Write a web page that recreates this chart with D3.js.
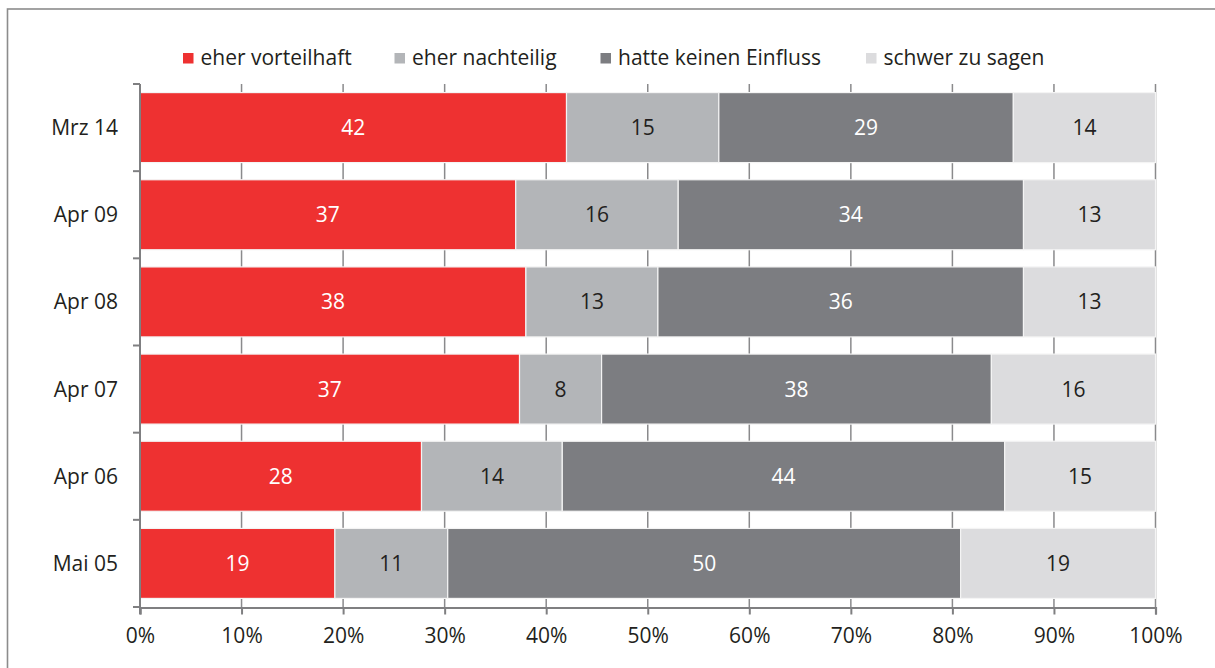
<!DOCTYPE html>
<html><head><meta charset="utf-8">
<script src="https://cdn.jsdelivr.net/npm/d3@7"></script>
<style>body{margin:0;background:#fff;} svg{display:block;} text{font-family:"Open Sans",sans-serif;}</style>
</head><body><svg id="c" width="1215" height="668"></svg>
<script>
const categories = ["Mrz 14","Apr 09","Apr 08","Apr 07","Apr 06","Mai 05"];
const seriesNames = ["eher vorteilhaft","eher nachteilig","hatte keinen Einfluss","schwer zu sagen"];
const vorteilhaft = [42,37,38,37,28,19];
const nachteilig  = [15,16,13,8,14,11];
const keinEinfluss= [29,34,36,38,44,50];
const schwer      = [14,13,13,16,15,19];
const xTicks = [0,0.1,0.2,0.3,0.4,0.5,0.6,0.7,0.8,0.9,1];
const colors = ["#ee3131","#b3b5b8","#7c7d81","#dcdcde"];
const textColors = ["#ffffff","#231f20","#ffffff","#231f20"];

const series = [vorteilhaft,nachteilig,keinEinfluss,schwer];
const svg = d3.select("#c");
const x = d3.scaleLinear().domain([0,1]).range([140,1155.5]);
const y = d3.scaleBand().domain(categories).range([84,607]).paddingInner(0.197).paddingOuter(0.0985);
const FS = 21;

// frame
svg.append("rect").attr("x",7.5).attr("y",9).attr("width",1220).attr("height",680)
  .attr("fill","none").attr("stroke","#8c8c8c").attr("stroke-width",1.6);

// gridlines
svg.append("g").selectAll("line").data(xTicks.slice(1)).join("line")
  .attr("x1",d=>x(d)).attr("x2",d=>x(d)).attr("y1",84).attr("y2",607)
  .attr("stroke","#8a8a8c").attr("stroke-width",1.5);

// stacked data
const rows = categories.map((c,i)=>{
  const vals = series.map(s=>s[i]);
  const tot = d3.sum(vals);
  let acc = 0;
  return vals.map((v,k)=>{const o={cat:c,k,v,x0:acc/tot,x1:(acc+v)/tot}; acc+=v; return o;});
}).flat();

const g = svg.append("g");
g.selectAll("rect").data(rows).join("rect")
  .attr("x",d=>x(d.x0)).attr("width",d=>x(d.x1)-x(d.x0))
  .attr("y",d=>y(d.cat)).attr("height",y.bandwidth())
  .attr("fill",d=>colors[d.k]).attr("stroke","#f4f4f4").attr("stroke-width",1.2);
g.selectAll("text").data(rows).join("text")
  .attr("x",d=>(x(d.x0)+x(d.x1))/2).attr("y",d=>y(d.cat)+y.bandwidth()/2)
  .attr("dy","0.36em").attr("text-anchor","middle").attr("font-size",FS)
  .attr("fill",d=>textColors[d.k]).text(d=>d.v);

// y axis
const yAxis = svg.append("g");
yAxis.append("line").attr("x1",140).attr("x2",140).attr("y1",84).attr("y2",614).attr("stroke","#7f7f81").attr("stroke-width",2);
const bounds = categories.map(c=>y(c)-y.step()*y.paddingInner()/2).concat([607]);
yAxis.selectAll("line.t").data(bounds).join("line").attr("class","t")
  .attr("x1",133).attr("x2",140).attr("y1",d=>d).attr("y2",d=>d)
  .attr("stroke","#7f7f81").attr("stroke-width",2);
yAxis.selectAll("text").data(categories).join("text")
  .attr("x",118).attr("y",d=>y(d)+y.bandwidth()/2).attr("dy","0.36em")
  .attr("text-anchor","end").attr("font-size",FS).attr("fill","#231f20").text(d=>d);

// x axis
const xAxisG = svg.append("g").attr("transform","translate(0,607.5)")
  .call(d3.axisBottom(x).tickValues(xTicks).tickFormat(d3.format(".0%")).tickSize(7).tickPadding(14));
xAxisG.select(".domain").attr("stroke","#7f7f81").attr("stroke-width",2.2);
xAxisG.selectAll(".tick line").attr("stroke","#7f7f81").attr("stroke-width",2);
xAxisG.selectAll(".tick text").attr("font-size",FS).attr("fill","#231f20").attr("font-family","Open Sans");

// legend
const legendX = [183,394.5,600.5,866];
const lg = svg.append("g").selectAll("g").data(seriesNames).join("g")
  .attr("transform",(d,i)=>`translate(${legendX[i]},0)`);
lg.append("rect").attr("x",0).attr("y",53).attr("width",10.5).attr("height",10.5).attr("fill",(d,i)=>colors[i]);
lg.append("text").attr("x",17.5).attr("y",65).attr("font-size",FS).attr("fill","#231f20").text(d=>d);
</script></body></html>
